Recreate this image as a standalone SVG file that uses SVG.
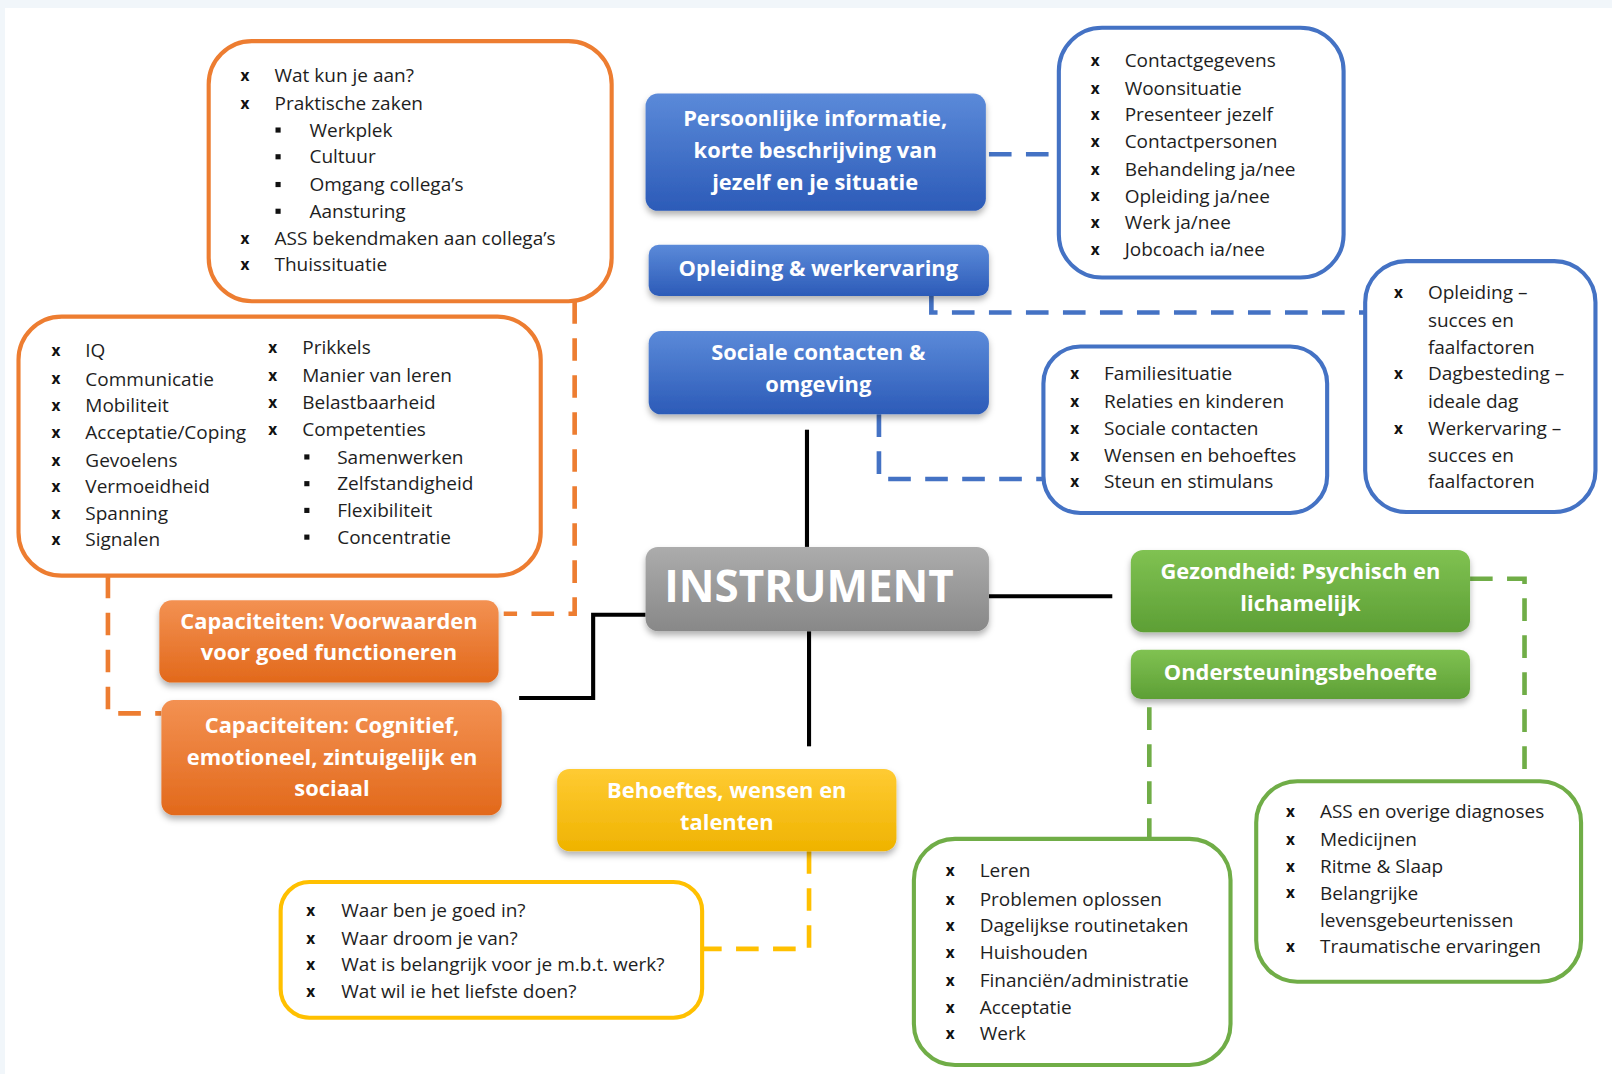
<svg xmlns="http://www.w3.org/2000/svg" width="1612" height="1074" viewBox="0 0 1612 1074">
<defs>
<style>
.lb{fill:#fff;stroke-width:4}
.or{stroke:#ed7d31}.bl{stroke:#4472c4}.gr{stroke:#70ad47}.ye{stroke:#ffc000}
.t{font-family:"Open Sans","Liberation Sans",sans-serif;font-size:18.5px;fill:#1e1e1e}
.x{font-family:"Open Sans","Liberation Sans",sans-serif;font-size:15px;font-weight:bold;fill:#111}
.h{font-family:"Open Sans","Liberation Sans",sans-serif;font-weight:bold;font-size:21.3px;fill:#fff;text-anchor:middle}
.dash{fill:none;stroke-width:4.5;stroke-dasharray:22 14}
.solid{fill:none;stroke:#000;stroke-width:4}
.sq{fill:#111}
</style>
<linearGradient id="gB" x1="0" y1="0" x2="0" y2="1"><stop offset="0" stop-color="#5b8ad9"/><stop offset="1" stop-color="#2c5bb8"/></linearGradient>
<linearGradient id="gO" x1="0" y1="0" x2="0" y2="1"><stop offset="0" stop-color="#f39152"/><stop offset="1" stop-color="#e2691b"/></linearGradient>
<linearGradient id="gG" x1="0" y1="0" x2="0" y2="1"><stop offset="0" stop-color="#80c252"/><stop offset="1" stop-color="#5d9f35"/></linearGradient>
<linearGradient id="gY" x1="0" y1="0" x2="0" y2="1"><stop offset="0" stop-color="#ffcb33"/><stop offset="1" stop-color="#efb300"/></linearGradient>
<linearGradient id="gS" x1="0" y1="0" x2="0" y2="1"><stop offset="0" stop-color="#acacac"/><stop offset="1" stop-color="#888"/></linearGradient>
<filter id="sh" x="-10%" y="-20%" width="120%" height="150%"><feDropShadow dx="0" dy="4" stdDeviation="3" flood-color="#000" flood-opacity="0.3"/></filter>
</defs>
<rect x="0" y="0" width="1612" height="1074" fill="#f1f6fa"/>
<rect x="5" y="8" width="1607" height="1066" fill="#fff"/>
<g transform="scale(1.028)">
<g id="connectors">
<path class="dash or" d="M559,293 V597 H490"/>
<path class="dash or" d="M105,560 V694 H157"/>
<path class="dash bl" d="M962,150 H1030"/>
<path class="dash bl" d="M906,288 V304 H1328"/>
<path class="dash bl" d="M855,403 V466 H1015"/>
<path class="dash gr" d="M1430,563 H1483 V760"/>
<path class="dash gr" d="M1118,688 V816"/>
<path class="dash ye" d="M787,828 V923 H683"/>
<path class="solid" d="M785,418 V532"/>
<path class="solid" d="M787,614 V726"/>
<path class="solid" d="M962,580 H1082"/>
<path class="solid" d="M628,598 H577 V679 H505"/>
</g>
<g id="instrument"><rect x="628" y="532" width="334" height="82" rx="12" fill="url(#gS)" filter="url(#sh)"/><text x="787" y="586" font-family="Open Sans, Liberation Sans, sans-serif" font-weight="bold" font-size="42.8" fill="#fff" text-anchor="middle">INSTRUMENT</text></g>
<g id="persoonlijke"><rect x="628" y="91" width="331" height="114" rx="12" fill="url(#gB)" filter="url(#sh)"/><text class="h" x="793" y="123">Persoonlijke informatie,</text><text class="h" x="793" y="154">korte beschrijving van</text><text class="h" x="793" y="185">jezelf en je situatie</text></g>
<g id="opleiding"><rect x="631" y="238" width="331" height="50" rx="10" fill="url(#gB)" filter="url(#sh)"/><text class="h" x="796" y="268">Opleiding &amp; werkervaring</text></g>
<g id="sociale"><rect x="631" y="322" width="331" height="81" rx="12" fill="url(#gB)" filter="url(#sh)"/><text class="h" x="796" y="350">Sociale contacten &amp;</text><text class="h" x="796" y="381">omgeving</text></g>
<g id="gezondheid"><rect x="1100" y="535" width="330" height="80" rx="12" fill="url(#gG)" filter="url(#sh)"/><text class="h" x="1265" y="563">Gezondheid: Psychisch en</text><text class="h" x="1265" y="594">lichamelijk</text></g>
<g id="ondersteuning"><rect x="1100" y="632" width="330" height="48" rx="10" fill="url(#gG)" filter="url(#sh)"/><text class="h" x="1265" y="661">Ondersteuningsbehoefte</text></g>
<g id="behoeftes"><rect x="542" y="748" width="330" height="80" rx="12" fill="url(#gY)" filter="url(#sh)"/><text class="h" x="707" y="776">Behoeftes, wensen en</text><text class="h" x="707" y="807">talenten</text></g>
<g id="cap-voorwaarden"><rect x="155" y="584" width="330" height="80" rx="12" fill="url(#gO)" filter="url(#sh)"/><text class="h" x="320" y="612">Capaciteiten: Voorwaarden</text><text class="h" x="320" y="642">voor goed functioneren</text></g>
<g id="cap-cognitief"><rect x="157" y="681" width="331" height="112" rx="12" fill="url(#gO)" filter="url(#sh)"/><text class="h" x="323" y="713">Capaciteiten: Cognitief,</text><text class="h" x="323" y="744">emotioneel, zintuigelijk en</text><text class="h" x="323" y="774">sociaal</text></g>

<g id="list-praktisch">
<rect class="lb or" x="203" y="40" width="392" height="253" rx="42"/>
<text class="x" x="234" y="79">x</text><text class="t" x="267" y="80">Wat kun je aan?</text>
<text class="x" x="234" y="106">x</text><text class="t" x="267" y="107">Praktische zaken</text>
<rect class="sq" x="268" y="124" width="5" height="5"/><text class="t" x="301" y="133">Werkplek</text>
<rect class="sq" x="268" y="150" width="5" height="5"/><text class="t" x="301" y="159">Cultuur</text>
<rect class="sq" x="268" y="177" width="5" height="5"/><text class="t" x="301" y="186">Omgang collega’s</text>
<rect class="sq" x="268" y="203" width="5" height="5"/><text class="t" x="301" y="212">Aansturing</text>
<text class="x" x="234" y="237">x</text><text class="t" x="267" y="238">ASS bekendmaken aan collega’s</text>
<text class="x" x="234" y="263">x</text><text class="t" x="267" y="264">Thuissituatie</text>
</g>

<g id="list-capaciteiten">
<rect class="lb or" x="18" y="308" width="508" height="252" rx="42"/>
<text class="x" x="50" y="346">x</text><text class="t" x="83" y="347">IQ</text>
<text class="x" x="50" y="374">x</text><text class="t" x="83" y="375">Communicatie</text>
<text class="x" x="50" y="400">x</text><text class="t" x="83" y="401">Mobiliteit</text>
<text class="x" x="50" y="426">x</text><text class="t" x="83" y="427">Acceptatie/Coping</text>
<text class="x" x="50" y="453">x</text><text class="t" x="83" y="454">Gevoelens</text>
<text class="x" x="50" y="479">x</text><text class="t" x="83" y="480">Vermoeidheid</text>
<text class="x" x="50" y="505">x</text><text class="t" x="83" y="506">Spanning</text>
<text class="x" x="50" y="530">x</text><text class="t" x="83" y="531">Signalen</text>
<text class="x" x="261" y="343">x</text><text class="t" x="294" y="344">Prikkels</text>
<text class="x" x="261" y="371">x</text><text class="t" x="294" y="372">Manier van leren</text>
<text class="x" x="261" y="397">x</text><text class="t" x="294" y="398">Belastbaarheid</text>
<text class="x" x="261" y="423">x</text><text class="t" x="294" y="424">Competenties</text>
<rect class="sq" x="296" y="442" width="5" height="5"/><text class="t" x="328" y="451">Samenwerken</text>
<rect class="sq" x="296" y="468" width="5" height="5"/><text class="t" x="328" y="477">Zelfstandigheid</text>
<rect class="sq" x="296" y="494" width="5" height="5"/><text class="t" x="328" y="503">Flexibiliteit</text>
<rect class="sq" x="296" y="520" width="5" height="5"/><text class="t" x="328" y="529">Concentratie</text>
</g>

<g id="list-persoonlijk">
<rect class="lb bl" x="1030" y="27" width="277" height="243" rx="42"/>
<text class="x" x="1061" y="64">x</text><text class="t" x="1094" y="65">Contactgegevens</text>
<text class="x" x="1061" y="91">x</text><text class="t" x="1094" y="92">Woonsituatie</text>
<text class="x" x="1061" y="117">x</text><text class="t" x="1094" y="118">Presenteer jezelf</text>
<text class="x" x="1061" y="143">x</text><text class="t" x="1094" y="144">Contactpersonen</text>
<text class="x" x="1061" y="170">x</text><text class="t" x="1094" y="171">Behandeling ja/nee</text>
<text class="x" x="1061" y="196">x</text><text class="t" x="1094" y="197">Opleiding ja/nee</text>
<text class="x" x="1061" y="222">x</text><text class="t" x="1094" y="223">Werk ja/nee</text>
<text class="x" x="1061" y="248">x</text><text class="t" x="1094" y="249">Jobcoach ia/nee</text>
</g>

<g id="list-opleiding">
<rect class="lb bl" x="1328" y="254" width="224" height="244" rx="40"/>
<text class="x" x="1356" y="290">x</text><text class="t" x="1389" y="291">Opleiding –</text>
<text class="t" x="1389" y="318">succes en</text>
<text class="t" x="1389" y="344">faalfactoren</text>
<text class="x" x="1356" y="369">x</text><text class="t" x="1389" y="370">Dagbesteding –</text>
<text class="t" x="1389" y="397">ideale dag</text>
<text class="x" x="1356" y="422">x</text><text class="t" x="1389" y="423">Werkervaring –</text>
<text class="t" x="1389" y="449">succes en</text>
<text class="t" x="1389" y="475">faalfactoren</text>
</g>

<g id="list-sociaal">
<rect class="lb bl" x="1015" y="337" width="276" height="162" rx="36"/>
<text class="x" x="1041" y="369">x</text><text class="t" x="1074" y="370">Familiesituatie</text>
<text class="x" x="1041" y="396">x</text><text class="t" x="1074" y="397">Relaties en kinderen</text>
<text class="x" x="1041" y="422">x</text><text class="t" x="1074" y="423">Sociale contacten</text>
<text class="x" x="1041" y="448">x</text><text class="t" x="1074" y="449">Wensen en behoeftes</text>
<text class="x" x="1041" y="474">x</text><text class="t" x="1074" y="475">Steun en stimulans</text>
</g>

<g id="list-ondersteuning">
<rect class="lb gr" x="889" y="816" width="308" height="220" rx="40"/>
<text class="x" x="920" y="852">x</text><text class="t" x="953" y="853">Leren</text>
<text class="x" x="920" y="880">x</text><text class="t" x="953" y="881">Problemen oplossen</text>
<text class="x" x="920" y="906">x</text><text class="t" x="953" y="907">Dagelijkse routinetaken</text>
<text class="x" x="920" y="932">x</text><text class="t" x="953" y="933">Huishouden</text>
<text class="x" x="920" y="959">x</text><text class="t" x="953" y="960">Financiën/administratie</text>
<text class="x" x="920" y="985">x</text><text class="t" x="953" y="986">Acceptatie</text>
<text class="x" x="920" y="1011">x</text><text class="t" x="953" y="1012">Werk</text>
</g>

<g id="list-gezondheid">
<rect class="lb gr" x="1222" y="760" width="316" height="195" rx="40"/>
<text class="x" x="1251" y="795">x</text><text class="t" x="1284" y="796">ASS en overige diagnoses</text>
<text class="x" x="1251" y="822">x</text><text class="t" x="1284" y="823">Medicijnen</text>
<text class="x" x="1251" y="848">x</text><text class="t" x="1284" y="849">Ritme &amp; Slaap</text>
<text class="x" x="1251" y="874">x</text><text class="t" x="1284" y="875">Belangrijke</text>
<text class="t" x="1284" y="902">levensgebeurtenissen</text>
<text class="x" x="1251" y="926">x</text><text class="t" x="1284" y="927">Traumatische ervaringen</text>
</g>

<g id="list-behoeftes">
<rect class="lb ye" x="273" y="858" width="410" height="132" rx="28"/>
<text class="x" x="298" y="891">x</text><text class="t" x="332" y="892">Waar ben je goed in?</text>
<text class="x" x="298" y="918">x</text><text class="t" x="332" y="919">Waar droom je van?</text>
<text class="x" x="298" y="944">x</text><text class="t" x="332" y="945">Wat is belangrijk voor je m.b.t. werk?</text>
<text class="x" x="298" y="970">x</text><text class="t" x="332" y="971">Wat wil ie het liefste doen?</text>
</g>
</g>
</svg>
